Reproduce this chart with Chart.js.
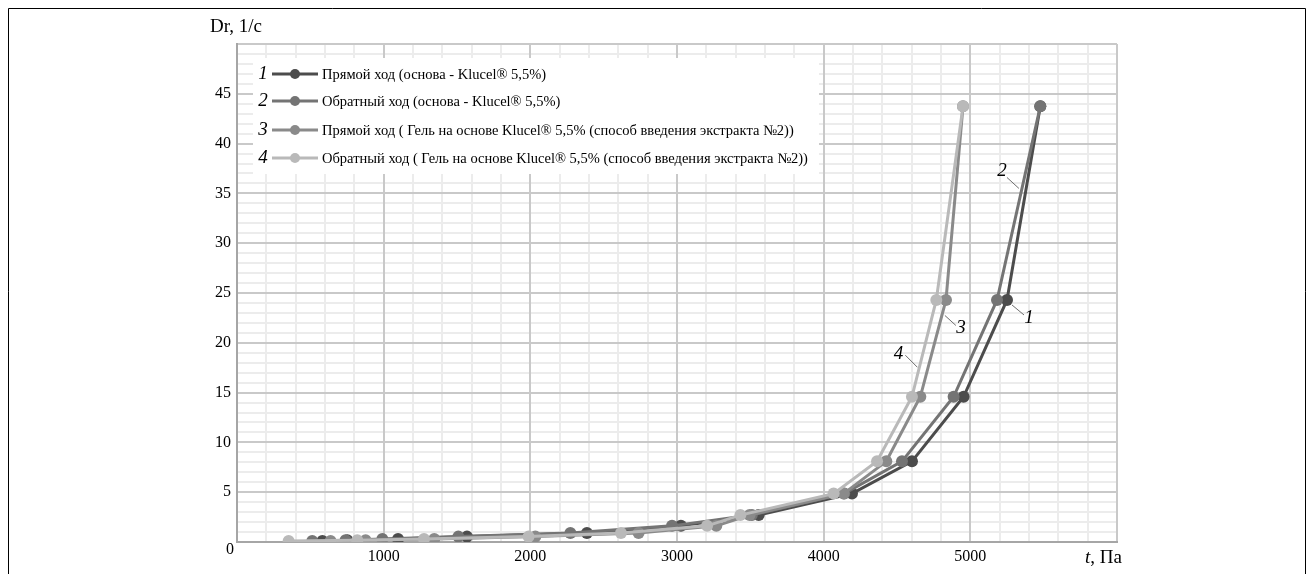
<!DOCTYPE html>
<html>
<head>
<meta charset="utf-8">
<script src="https://cdn.jsdelivr.net/npm/chart.js@4/dist/chart.umd.min.js"></script>
<style>
  html, body { margin: 0; padding: 0; background: #ffffff; }
  #wrap { width: 1314px; height: 574px; }
</style>
</head>
<body>
<div id="wrap"><canvas id="chart" width="1314" height="574"></canvas></div>
<script>
// Shear rate levels Dr, 1/c (same set for every run)
const shearRate = [0.1, 0.18, 0.3, 0.54, 0.9, 1.62, 2.7, 4.86, 8.1, 14.58, 24.3, 43.74];

// Shear stress t, Па for each run
const forwardBase  = [582, 752, 1098, 1568, 2386, 3027, 3557, 4193, 4602, 4954, 5250, 5477];
const backwardBase = [513, 740, 991, 1509, 2273, 2966, 3510, 4140, 4534, 4886, 5182, 5477];
const forwardGel   = [638, 877, 1345, 2034, 2738, 3268, 3495, 4136, 4427, 4659, 4834, 4950];
const backwardGel  = [352, 820, 1275, 1988, 2618, 3205, 3432, 4068, 4364, 4602, 4768, 4950];

const seriesNames = [
  'Прямой ход (основа - Klucel® 5,5%)',
  'Обратный ход (основа - Klucel® 5,5%)',
  'Прямой ход ( Гель на основе Klucel® 5,5% (способ введения экстракта №2))',
  'Обратный ход ( Гель на основе Klucel® 5,5% (способ введения экстракта №2))'
];
const seriesNumbers = ['1', '2', '3', '4'];
const seriesColors = ['#4c4c4c', '#747474', '#8a8a8a', '#b9b9b9'];

const xTickLabels = [1000, 2000, 3000, 4000, 5000];
const yTickLabels = [5, 10, 15, 20, 25, 30, 35, 40, 45];

const SERIF = '"Liberation Serif", "Times New Roman", serif';

function toPoints(xs) {
  return xs.map((x, i) => ({ x: x, y: shearRate[i] }));
}

const allSeries = [forwardBase, backwardBase, forwardGel, backwardGel];
const datasets = allSeries.map((xs, i) => ({
  label: seriesNames[i],
  data: toPoints(xs),
  borderColor: seriesColors[i],
  backgroundColor: seriesColors[i],
  pointBackgroundColor: seriesColors[i],
  pointBorderColor: seriesColors[i],
  pointRadius: 6,
  pointBorderWidth: 0,
  borderWidth: 3,
  tension: 0,
  showLine: true,
  xAxisID: 'x',
  yAxisID: 'y',
  order: 3 - i
}));

// Callout numbers: point on a curve (segment idx -> idx+1 at fraction t),
// leader line from (ax,ay) to (bx,by) relative to it, number at (lx,ly)
const callouts = [
  { series: 0, idx: 10, t: 0,     ax: 5,  ay: 5,  bx: 17,  by: 15,  lx: 22,  ly: 18 },
  { series: 1, idx: 10, t: 0.576, ax: -3, ay: 0,  bx: -15, by: -11, lx: -20, ly: -17 },
  { series: 2, idx: 9,  t: 0.84,  ax: 3,  ay: 0,  bx: 14,  by: 10,  lx: 19,  ly: 13 },
  { series: 3, idx: 9,  t: 0.305, ax: -2, ay: 0,  bx: -14, by: -12, lx: -21, ly: -13 }
];

const decor = {
  id: 'decor',
  beforeDraw(chart) {
    const ctx = chart.ctx;
    ctx.save();
    ctx.fillStyle = '#ffffff';
    ctx.fillRect(0, 0, chart.width, chart.height);
    ctx.restore();
  },
  afterDraw(chart) {
    const ctx = chart.ctx;
    const xs = chart.scales.x, ys = chart.scales.y;
    const area = chart.chartArea;
    ctx.save();

    // frame
    ctx.strokeStyle = '#000000';
    ctx.lineWidth = 1;
    ctx.beginPath();
    ctx.moveTo(8.5, chart.height);
    ctx.lineTo(8.5, 8.5);
    ctx.lineTo(1305.5, 8.5);
    ctx.lineTo(1305.5, chart.height);
    ctx.stroke();

    // axis titles
    ctx.fillStyle = '#000000';
    ctx.font = '19px ' + SERIF;
    ctx.textBaseline = 'alphabetic';
    ctx.textAlign = 'left';
    ctx.fillText('Dr, 1/c', area.left - 27, area.top - 12);
    ctx.textAlign = 'right';
    const rest = ', Па';
    const rw = ctx.measureText(rest).width;
    const endX = area.right + 5;
    const baseY = area.bottom + 21;
    ctx.fillText(rest, endX, baseY);
    ctx.font = 'italic 19px ' + SERIF;
    ctx.fillText('t', endX - rw, baseY);

    // shared origin label
    ctx.font = '16px ' + SERIF;
    ctx.textAlign = 'right';
    ctx.textBaseline = 'middle';
    ctx.fillText('0', area.left - 3, ys.getPixelForValue(0) + 8);

    // callouts
    callouts.forEach(c => {
      const xsArr = allSeries[c.series];
      const x0 = xsArr[c.idx], y0 = shearRate[c.idx];
      const x1 = xsArr[c.idx + 1], y1 = shearRate[c.idx + 1];
      const px = xs.getPixelForValue(x0 + (x1 - x0) * c.t);
      const py = ys.getPixelForValue(y0 + (y1 - y0) * c.t);
      ctx.strokeStyle = '#6e6e6e';
      ctx.lineWidth = 1;
      ctx.beginPath();
      ctx.moveTo(px + c.ax, py + c.ay);
      ctx.lineTo(px + c.bx, py + c.by);
      ctx.stroke();
      ctx.fillStyle = '#000000';
      ctx.font = 'italic 19px ' + SERIF;
      ctx.textAlign = 'center';
      ctx.textBaseline = 'middle';
      ctx.fillText(seriesNumbers[c.series], px + c.lx, py + c.ly);
    });

    // legend
    const lx = area.left + 16, ly = area.top + 14;
    ctx.fillStyle = '#ffffff';
    ctx.fillRect(lx, ly, 566, 116);
    const rows = [74, 101, 130, 158];
    rows.forEach((ry, i) => {
      ctx.fillStyle = '#000000';
      ctx.font = 'italic 19px ' + SERIF;
      ctx.textAlign = 'center';
      ctx.textBaseline = 'middle';
      ctx.fillText(seriesNumbers[i], lx + 10, ry);
      ctx.strokeStyle = seriesColors[i];
      ctx.lineWidth = 3;
      ctx.beginPath();
      ctx.moveTo(lx + 19, ry);
      ctx.lineTo(lx + 65, ry);
      ctx.stroke();
      ctx.fillStyle = seriesColors[i];
      ctx.beginPath();
      ctx.arc(lx + 42, ry, 5, 0, Math.PI * 2);
      ctx.fill();
      ctx.fillStyle = '#000000';
      ctx.font = '14.5px ' + SERIF;
      ctx.textAlign = 'left';
      ctx.fillText(seriesNames[i], lx + 69, ry + 1);
    });
    ctx.restore();
  }
};

const MAJOR = '#c9c9c9', MINOR = '#ececec', AXIS = '#a6a6a6';

new Chart(document.getElementById('chart'), {
  type: 'scatter',
  data: { datasets: datasets },
  plugins: [decor],
  options: {
    responsive: false,
    animation: false,
    devicePixelRatio: 1,
    layout: { padding: { top: 44, right: 197, bottom: 0, left: 0 } },
    plugins: { legend: { display: false }, tooltip: { enabled: false } },
    scales: {
      // minor grid + labels
      x: {
        type: 'linear',
        min: 0, max: 6000,
        afterFit(scale) { scale.height = 32; },
        border: { color: AXIS, width: 2 },
        grid: { drawTicks: false, lineWidth: 2, color: MINOR },
        ticks: {
          stepSize: 200,
          autoSkip: false,
          maxRotation: 0,
          padding: 5,
          color: '#000000',
          font: { family: SERIF, size: 16 },
          callback: v => xTickLabels.includes(v) ? String(v) : ''
        }
      },
      y: {
        type: 'linear',
        min: 0, max: 50,
        afterFit(scale) { scale.width = 237; },
        border: { color: AXIS, width: 2 },
        grid: { drawTicks: false, lineWidth: 2, color: MINOR },
        ticks: {
          stepSize: 1,
          autoSkip: false,
          padding: 6,
          color: '#000000',
          font: { family: SERIF, size: 16 },
          callback: v => yTickLabels.includes(v) ? String(v) : ''
        }
      },
      // major grid drawn above the minor one
      xMajor: {
        type: 'linear',
        position: 'bottom',
        min: 0, max: 6000,
        afterFit(scale) { scale.height = 0; },
        border: { display: false },
        grid: { drawTicks: false, lineWidth: 2, color: c => c.tick.value === 0 ? 'rgba(0,0,0,0)' : MAJOR },
        ticks: { display: false, stepSize: 1000 }
      },
      yMajor: {
        type: 'linear',
        position: 'left',
        min: 0, max: 50,
        afterFit(scale) { scale.width = 0; },
        border: { display: false },
        grid: { drawTicks: false, lineWidth: 2, color: c => c.tick.value === 0 ? 'rgba(0,0,0,0)' : MAJOR },
        ticks: { display: false, stepSize: 5 }
      }
    }
  }
});
</script>
</body>
</html>
